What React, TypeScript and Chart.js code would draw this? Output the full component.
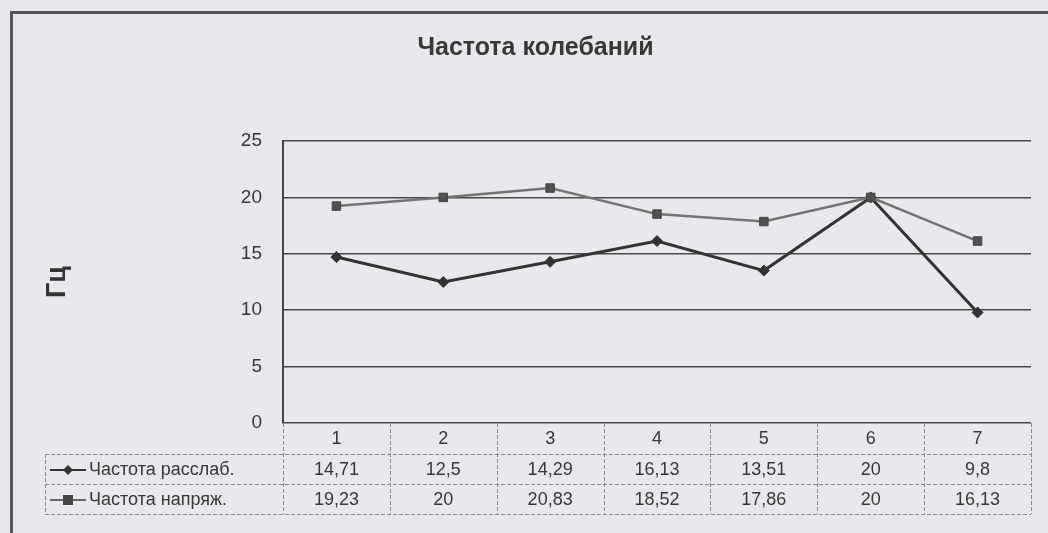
import React, { useEffect, useRef } from "react";
import { Chart, registerables } from "chart.js";

Chart.register(...registerables);

const categories = ["1", "2", "3", "4", "5", "6", "7"];
const relaxName = "Частота расслаб.";
const tenseName = "Частота напряж.";
const relaxValues = [14.71, 12.5, 14.29, 16.13, 13.51, 20, 9.8];
const tenseValues = [19.23, 20, 20.83, 18.52, 17.86, 20, 16.13];
const relaxLabels = ["14,71", "12,5", "14,29", "16,13", "13,51", "20", "9,8"];
const tenseLabels = ["19,23", "20", "20,83", "18,52", "17,86", "20", "16,13"];
const chartTitle = "Частота колебаний";
const yTitle = "Гц";

const FONT = "'Liberation Sans', Arial, sans-serif";
const TEXT = "#383838";

const framePlugin = {
  id: "frame",
  beforeDraw(chart: any) {
    const { ctx, width, height } = chart;
    ctx.save();
    ctx.fillStyle = "#e9e8ec";
    ctx.fillRect(0, 0, width, height);
    ctx.strokeStyle = "#5a5560";
    ctx.lineWidth = 3;
    ctx.beginPath();
    ctx.moveTo(11.5, height);
    ctx.lineTo(11.5, 12.5);
    ctx.lineTo(width, 12.5);
    ctx.stroke();
    ctx.restore();
  },
};

const tablePlugin = {
  id: "dataTable",
  afterDraw(chart: any) {
    const { ctx, chartArea } = chart;
    const x = chart.scales.x;
    const left = chartArea.left;
    const right = chartArea.right;
    const n = categories.length;
    const cw = (right - left) / n;
    const top = chartArea.bottom;
    const r1 = top + 31;
    const r2 = r1 + 30;
    const r3 = r2 + 30;
    const legendLeft = 45;
    ctx.save();
    ctx.strokeStyle = "#8a8a8a";
    ctx.lineWidth = 1;
    ctx.setLineDash([4, 2]);
    ctx.beginPath();
    for (let k = 0; k <= n; k++) {
      const vx = Math.round(left + k * cw) + 0.5;
      ctx.moveTo(vx, top);
      ctx.lineTo(vx, r3);
    }
    [r1, r2, r3].forEach((yy) => {
      ctx.moveTo(legendLeft, yy + 0.5);
      ctx.lineTo(right, yy + 0.5);
    });
    ctx.moveTo(legendLeft + 0.5, r1);
    ctx.lineTo(legendLeft + 0.5, r3);
    ctx.stroke();
    ctx.setLineDash([]);

    ctx.fillStyle = TEXT;
    ctx.font = `18px ${FONT}`;
    ctx.textAlign = "center";
    ctx.textBaseline = "middle";
    const c0 = (top + r1) / 2 + 1;
    const c1 = (r1 + r2) / 2 + 1;
    const c2 = (r2 + r3) / 2 + 1;
    categories.forEach((c, i) => {
      const px = x.getPixelForValue(i);
      ctx.fillText(c, px, c0);
      ctx.fillText(relaxLabels[i], px, c1);
      ctx.fillText(tenseLabels[i], px, c2);
    });

    // legend keys
    const keyL = 50, keyR = 86, keyM = 68;
    ctx.lineWidth = 2;
    ctx.strokeStyle = "#333";
    ctx.beginPath();
    ctx.moveTo(keyL, c1);
    ctx.lineTo(keyR, c1);
    ctx.stroke();
    ctx.fillStyle = "#333";
    ctx.beginPath();
    ctx.moveTo(keyM, c1 - 5);
    ctx.lineTo(keyM + 5, c1);
    ctx.lineTo(keyM, c1 + 5);
    ctx.lineTo(keyM - 5, c1);
    ctx.closePath();
    ctx.fill();
    ctx.strokeStyle = "#666";
    ctx.beginPath();
    ctx.moveTo(keyL, c2);
    ctx.lineTo(keyR, c2);
    ctx.stroke();
    ctx.fillStyle = "#444";
    ctx.fillRect(keyM - 5, c2 - 5, 10, 10);

    ctx.fillStyle = TEXT;
    ctx.textAlign = "left";
    ctx.fillText(relaxName, 89, c1);
    ctx.fillText(tenseName, 89, c2);
    ctx.restore();
  },
};

export default function App() {
  const ref = useRef<HTMLCanvasElement | null>(null);
  useEffect(() => {
    if (!ref.current) return;
    const chart = new Chart(ref.current, {
      type: "line",
      data: {
        labels: categories,
        datasets: [
          {
            label: tenseName,
            data: tenseValues,
            borderColor: "#747474",
            borderWidth: 2.5,
            pointStyle: "rect",
            pointRadius: 6,
            pointBackgroundColor: "#505050",
            pointBorderColor: "#444",
            pointBorderWidth: 1,
            tension: 0,
          },
          {
            label: relaxName,
            data: relaxValues,
            borderColor: "#333",
            borderWidth: 3,
            pointStyle: "rectRot",
            pointRadius: 5.5,
            pointBackgroundColor: "#333",
            pointBorderColor: "#333",
            pointBorderWidth: 1,
            tension: 0,
          },
        ],
      },
      options: {
        responsive: false,
        animation: false,
        layout: { padding: { top: 0, left: 40, right: 17, bottom: 110 } },
        plugins: {
          legend: { display: false },
          tooltip: { enabled: false },
          title: {
            display: true,
            text: chartTitle,
            color: TEXT,
            font: { family: FONT, size: 25, weight: "bold", lineHeight: 1.2 },
            padding: { top: 33, bottom: 78 },
          },
        },
        scales: {
          x: {
            type: "category",
            display: false,
            offset: true,
            grid: { display: false },
          },
          y: {
            min: 0,
            max: 25,
            afterFit: (s: any) => {
              s.width = 243;
            },
            ticks: {
              stepSize: 5,
              padding: 21,
              color: TEXT,
              font: { family: FONT, size: 19 },
            },
            grid: { color: "#4a4a4a", lineWidth: 1.5, drawTicks: false },
            border: { display: true, color: "#444", width: 2 },
            title: {
              display: true,
              text: yTitle,
              color: "#333",
              font: { family: FONT, size: 27, weight: "bold", lineHeight: 1.2 },
              padding: { top: 1, bottom: 0 },
            },
          },
        },
      },
      plugins: [framePlugin, tablePlugin],
    });
    return () => chart.destroy();
  }, []);
  return (
    <div style={{ position: "fixed", left: 0, top: 0, width: 1048, height: 533 }}>
      <canvas ref={ref} width={1048} height={533} />
    </div>
  );
}
